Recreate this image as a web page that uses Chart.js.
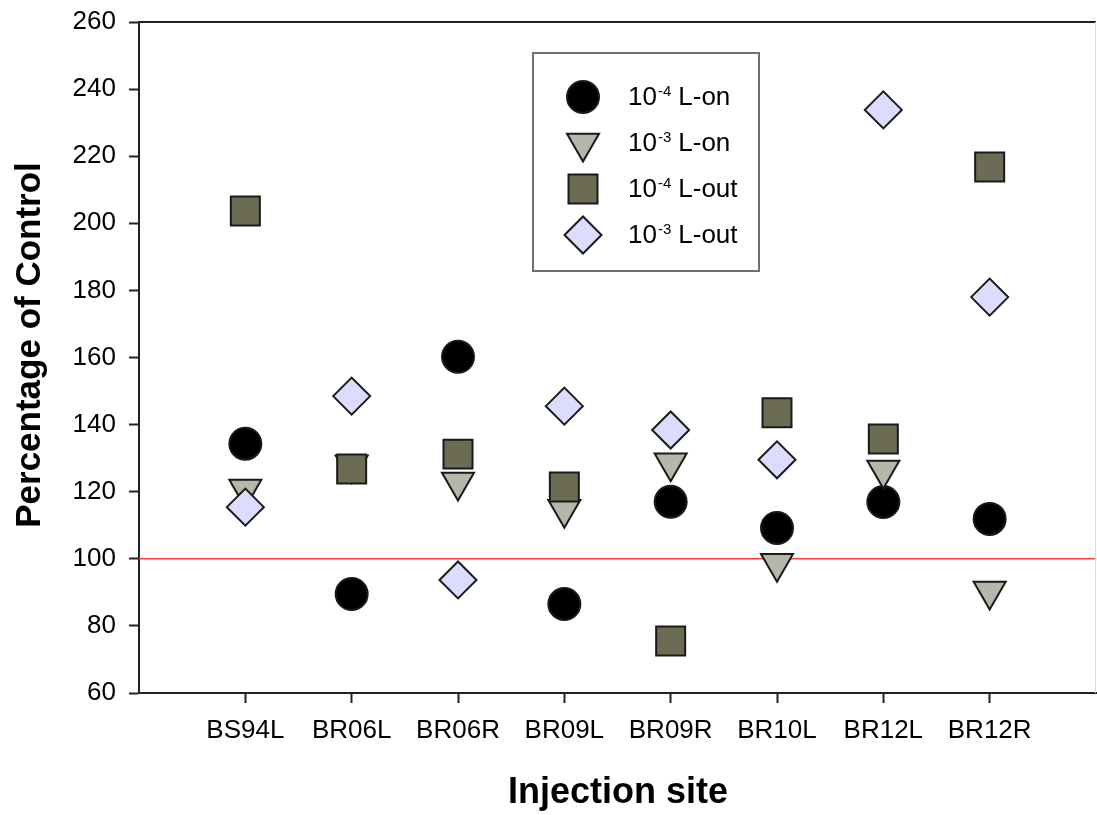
<!DOCTYPE html>
<html>
<head>
<meta charset="utf-8">
<script src="https://cdn.jsdelivr.net/npm/chart.js@4.4.1/dist/chart.umd.min.js"></script>
<style>
  html, body { margin: 0; padding: 0; background: #fff; }
  #caja { width: 1097px; height: 815px; }
</style>
</head>
<body>
<div id="caja"><canvas id="grafico" width="1097" height="815"></canvas></div>
<script>
// sitios de inyeccion (eje x)
const sitios = ['BS94L', 'BR06L', 'BR06R', 'BR09L', 'BR09R', 'BR10L', 'BR12L', 'BR12R'];
const marcasY = [60, 80, 100, 120, 140, 160, 180, 200, 220, 240, 260];

// porcentaje del control
const lOn4 = [134.3, 89.5, 160.2, 86.5, 117.0, 109.2, 116.9, 111.9];
const lOn3 = [120.8, 128.0, 122.9, 114.8, 128.6, 98.7, 126.5, 90.4];
const lOut4 = [203.7, 126.8, 131.2, 121.4, 75.5, 143.5, 135.7, 216.8];
const lOut3 = [115.4, 148.5, 93.7, 145.5, 138.4, 129.5, 233.8, 178.0];

const leyendaExp = ['-4', '-3', '-4', '-3'];
const leyendaTexto = ['L-on', 'L-on', 'L-out', 'L-out'];
const control = 100;

const fuente = "'Liberation Sans', Arial, sans-serif";

const estilos = [
    { pointStyle: 'circle', radius: 16, rotation: 0, fill: '#000000' },
    { pointStyle: 'triangle', radius: 18.5, rotation: 180, fill: '#b6b6aa' },
    { pointStyle: 'rect', radius: 20.5, rotation: 0, fill: '#6c6c54' },
    { pointStyle: 'rectRot', radius: 18.5, rotation: 0, fill: '#dcdcff' }
];

const valores = [lOn4, lOn3, lOut4, lOut3];

const datasets = valores.map((serie, i) => ({
    label: '10' + leyendaExp[i] + ' ' + leyendaTexto[i],
    data: serie.map((v, j) => ({ x: j, y: v })),
    pointStyle: estilos[i].pointStyle,
    pointRadius: estilos[i].radius,
    pointHoverRadius: estilos[i].radius,
    pointRotation: estilos[i].rotation,
    backgroundColor: estilos[i].fill,
    borderColor: '#1a1a1a',
    borderWidth: 2,
    order: 4 - i
}));

const extras = {
    id: 'extras',
    beforeDatasetsDraw(chart) {
        const { ctx, chartArea, scales } = chart;
        ctx.save();
        // linea del control
        const yc = scales.y.getPixelForValue(control);
        ctx.strokeStyle = '#ff3b3b';
        ctx.lineWidth = 1.5;
        ctx.beginPath();
        ctx.moveTo(chartArea.left, yc);
        ctx.lineTo(chartArea.right, yc);
        ctx.stroke();
        // marco superior y derecho
        ctx.strokeStyle = '#222';
        ctx.lineWidth = 2;
        ctx.beginPath();
        ctx.moveTo(chartArea.left, chartArea.top);
        ctx.lineTo(chartArea.right, chartArea.top);
        ctx.stroke();
        ctx.strokeStyle = '#d8d8d8';
        ctx.lineWidth = 1;
        ctx.beginPath();
        ctx.moveTo(chartArea.right - 0.5, chartArea.top);
        ctx.lineTo(chartArea.right - 0.5, chartArea.bottom);
        ctx.stroke();
        ctx.restore();
    },
    afterDraw(chart) {
        const ctx = chart.ctx;
        ctx.save();
        // titulos de ejes
        ctx.fillStyle = '#000';
        ctx.font = "bold 36px " + fuente;
        ctx.textAlign = 'center';
        ctx.textBaseline = 'alphabetic';
        ctx.fillText('Injection site', 618, 803);
        ctx.save();
        ctx.translate(40, 345);
        ctx.rotate(-Math.PI / 2);
        ctx.font = "bold 35px " + fuente;
        ctx.fillText('Percentage of Control', 0, 0);
        ctx.restore();

        // leyenda
        ctx.fillStyle = '#fff';
        ctx.fillRect(533, 53, 226, 218);
        ctx.strokeStyle = '#707070';
        ctx.lineWidth = 2;
        ctx.strokeRect(533, 53, 226, 218);
        const filas = [97, 143, 189, 235];
        filas.forEach((y, i) => {
            const e = estilos[i];
            ctx.fillStyle = e.fill;
            ctx.strokeStyle = '#1a1a1a';
            ctx.lineWidth = 2;
            Chart.helpers.drawPoint(ctx, {
                pointStyle: e.pointStyle, radius: e.radius,
                rotation: e.rotation, borderWidth: 2
            }, 583, y);
            ctx.fillStyle = '#000';
            ctx.textAlign = 'left';
            ctx.textBaseline = 'middle';
            ctx.font = "26px " + fuente;
            ctx.fillText('10', 628, y + 1);
            let x = 628 + ctx.measureText('10').width;
            ctx.font = "15px " + fuente;
            ctx.textBaseline = 'alphabetic';
            ctx.fillText(leyendaExp[i], x + 1, y - 1);
            x += ctx.measureText(leyendaExp[i]).width + 8;
            ctx.font = "26px " + fuente;
            ctx.textBaseline = 'middle';
            ctx.fillText(leyendaTexto[i], x, y + 1);
        });
        ctx.restore();
    }
};

const ctx = document.getElementById('grafico').getContext('2d');
const chart = new Chart(ctx, {
    type: 'scatter',
    data: { datasets: datasets },
    options: {
        responsive: false,
        animation: false,
        devicePixelRatio: 1,
        layout: { autoPadding: false, padding: { top: 22, right: 1, left: 0, bottom: 0 } },
        plugins: {
            legend: { display: false },
            tooltip: { enabled: false }
        },
        scales: {
            x: {
                type: 'linear',
                min: -1,
                max: 8,
                afterBuildTicks: s => { s.ticks = sitios.map((_, i) => ({ value: i })); },
                afterFit: s => { s.height = 122; s.paddingLeft = 0; s.paddingRight = 0; },
                ticks: {
                    callback: v => sitios[v],
                    color: '#000',
                    font: { family: fuente, size: 26 },
                    padding: 12,
                    autoSkip: false,
                    maxRotation: 0
                },
                grid: { drawOnChartArea: false, tickLength: 10, color: '#222', tickWidth: 2 },
                border: { color: '#222', width: 2 }
            },
            y: {
                min: 60,
                max: 260,
                afterBuildTicks: s => { s.ticks = marcasY.map(v => ({ value: v })); },
                afterFit: s => { s.width = 139; s.paddingTop = 0; s.paddingBottom = 0; },
                ticks: {
                    color: '#000',
                    font: { family: fuente, size: 26 },
                    padding: 13
                },
                grid: { drawOnChartArea: false, tickLength: 10, color: '#222', tickWidth: 2 },
                border: { color: '#222', width: 2 }
            }
        }
    },
    plugins: [extras]
});
</script>
</body>
</html>
